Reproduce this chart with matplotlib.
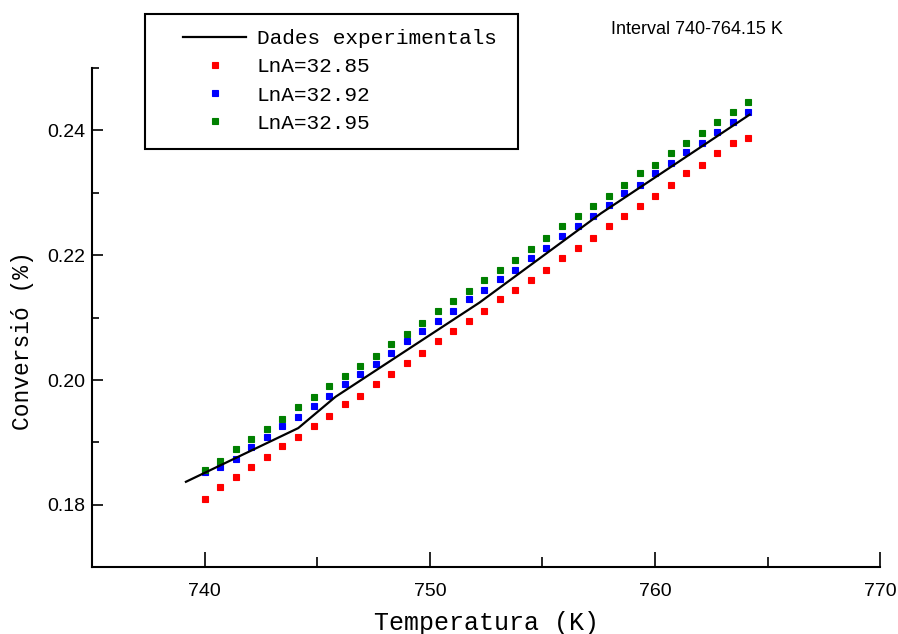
import numpy as np
import matplotlib
matplotlib.use('Agg')
import matplotlib.pyplot as plt
from matplotlib import font_manager
from matplotlib.patches import Rectangle
from matplotlib.ticker import MultipleLocator

# Temperatures of the simulated points (K)
temp = [740 + 0.69 * i for i in range(36)]

# Simulated conversion for each pre-exponential factor
conv_3285 = [0.1809, 0.1828, 0.1844, 0.1860, 0.1876, 0.1895, 0.1909, 0.1927,
             0.1943, 0.1961, 0.1975, 0.1994, 0.2010, 0.2028, 0.2044, 0.2062,
             0.2078, 0.2094, 0.2110, 0.2129, 0.2145, 0.2161, 0.2177, 0.2196,
             0.2212, 0.2228, 0.2246, 0.2263, 0.2279, 0.2295, 0.2313, 0.2331,
             0.2345, 0.2363, 0.2379, 0.2388]
conv_3292 = [0.1853, 0.1860, 0.1874, 0.1892, 0.1908, 0.1927, 0.1941, 0.1959,
             0.1975, 0.1994, 0.2010, 0.2026, 0.2044, 0.2062, 0.2078, 0.2095,
             0.2110, 0.2129, 0.2145, 0.2162, 0.2177, 0.2196, 0.2212, 0.2231,
             0.2247, 0.2263, 0.2281, 0.2299, 0.2313, 0.2331, 0.2348, 0.2366,
             0.2380, 0.2398, 0.2414, 0.2430]
conv_3295 = [0.1856, 0.1871, 0.1889, 0.1906, 0.1922, 0.1938, 0.1956, 0.1973,
             0.1991, 0.2007, 0.2023, 0.2039, 0.2058, 0.2074, 0.2092, 0.2110,
             0.2126, 0.2143, 0.2161, 0.2177, 0.2193, 0.2210, 0.2228, 0.2246,
             0.2262, 0.2278, 0.2295, 0.2313, 0.2331, 0.2345, 0.2363, 0.2380,
             0.2396, 0.2414, 0.2430, 0.2446]

# Experimental curve
temp_exp = [739.16, 744.15, 745.8, 752.2, 757.6, 764.2]
conv_exp = [0.1837, 0.1923, 0.1973, 0.2124, 0.2267, 0.2425]

series = [
    (conv_3285, '#ff0000', 'LnA=32.85'),
    (conv_3292, '#0000ff', 'LnA=32.92'),
    (conv_3295, '#008000', 'LnA=32.95'),
]

# narrow sans for the numbers if there is one, typewriter for the labels
sans = 'Liberation Sans'
for name in ['Liberation Sans Narrow', 'Arial Narrow']:
    try:
        font_manager.findfont(name, fallback_to_default=False)
        sans = name
        break
    except Exception:
        pass
mono = 'Liberation Mono'

fig = plt.figure(figsize=(8.98, 6.34), dpi=100)
ax = fig.add_axes([0.1028, 0.1052, 0.8772, 0.7877])

ax.plot(temp_exp, conv_exp, color='black', lw=1.6, label='Dades experimentals', zorder=3)
for vals, col, lab in series:
    ax.plot(temp, vals, ls='none', marker='s', ms=4.8, mfc=col, mec=col,
            mew=0.8, label=lab, zorder=2)

ax.set_xlim(735, 770)
ax.set_ylim(0.17, 0.25)
ax.xaxis.set_major_locator(MultipleLocator(10))
ax.xaxis.set_minor_locator(MultipleLocator(5))
ax.yaxis.set_major_locator(MultipleLocator(0.02))
ax.yaxis.set_minor_locator(MultipleLocator(0.01))
ax.yaxis.set_major_formatter(plt.FormatStrFormatter('%.2f'))

for s in ['top', 'right']:
    ax.spines[s].set_visible(False)
for s in ['left', 'bottom']:
    ax.spines[s].set_linewidth(1.5)

ax.tick_params(axis='x', which='major', direction='in', length=11, width=1.2, pad=11)
ax.tick_params(axis='x', which='minor', direction='in', length=7, width=1.2)
ax.tick_params(axis='y', which='major', direction='in', length=8, width=1.2, pad=5)
ax.tick_params(axis='y', which='minor', direction='in', length=5, width=1.2)
for t in ax.get_xticklabels() + ax.get_yticklabels():
    t.set_fontfamily(sans)
    t.set_fontsize(14)

ax.set_xlabel('Temperatura (K)', fontfamily=mono, fontsize=18, labelpad=8)
ax.set_ylabel('Conversió (%)', fontfamily=mono, fontsize=16.5)
ax.yaxis.set_label_coords(-0.074, 0.453)

fig.text(697 / 898, 1 - 30 / 634, 'Interval 740-764.15 K', fontfamily=sans,
         fontsize=13, ha='center', va='center')

# legend box sits above the plot area
fig.patches.append(Rectangle((145 / 898, 1 - 149 / 634), 373 / 898, 135 / 634,
                             transform=fig.transFigure, fill=False,
                             edgecolor='black', lw=1.5))
ax.legend(loc='upper left', bbox_to_anchor=(183 / 898, 1 - 29 / 634),
          bbox_transform=fig.transFigure, frameon=False, borderpad=0,
          borderaxespad=0, handlelength=3, handletextpad=0.5, labelspacing=0.44,
          numpoints=1, prop={'family': mono, 'size': 15.2})

fig.savefig('out.png', dpi=100)
